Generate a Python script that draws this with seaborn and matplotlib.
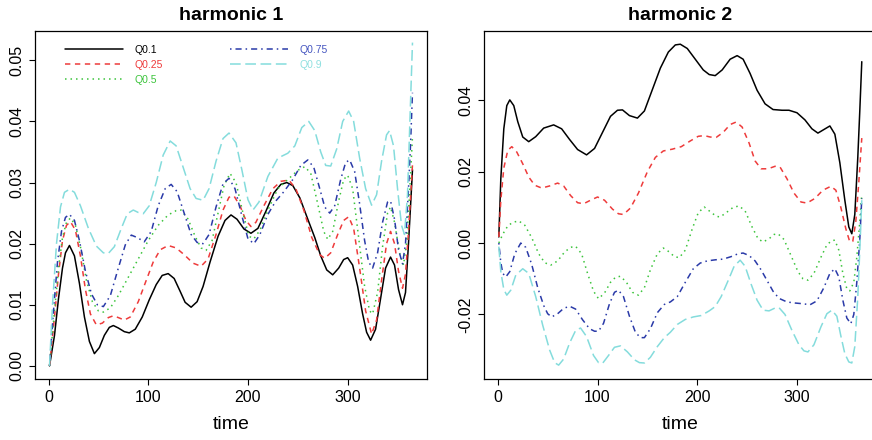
import matplotlib
matplotlib.use("Agg")
import matplotlib.pyplot as plt
import numpy as np
import pandas as pd
import seaborn as sns

# ---------------- data ----------------
quantiles = ["Q0.1", "Q0.25", "Q0.5", "Q0.75", "Q0.9"]
titles = ["harmonic 1", "harmonic 2"]
xticks = [0, 100, 200, 300]
h1_yticks = [0.00, 0.01, 0.02, 0.03, 0.04, 0.05]
h2_yticks = [-0.02, 0.00, 0.02, 0.04]

# harmonic 1
h1_q10_t = [1, 6, 10, 14, 17, 21, 26, 31, 36, 41, 46, 51, 56, 61, 65, 70, 76, 81, 87, 94, 101, 108, 114, 120, 126, 132, 137, 143, 149, 155, 162, 170, 177, 183, 189, 196, 203, 210, 218, 226, 233, 239, 245, 252, 260, 267, 273, 279, 285, 291, 296, 300, 305, 310, 315, 319, 323, 328, 333, 338, 343, 347, 351, 355, 358, 361, 363, 365]
h1_q10_v = [0.0000, 0.0050, 0.0110, 0.0160, 0.0185, 0.0197, 0.0180, 0.0135, 0.0080, 0.0040, 0.0020, 0.0030, 0.0050, 0.0063, 0.0066, 0.0062, 0.0056, 0.0054, 0.0060, 0.0080, 0.0108, 0.0133, 0.0148, 0.0151, 0.0143, 0.0122, 0.0104, 0.0096, 0.0105, 0.0130, 0.0170, 0.0212, 0.0238, 0.0247, 0.0240, 0.0224, 0.0217, 0.0225, 0.0253, 0.0283, 0.0297, 0.0300, 0.0295, 0.0275, 0.0240, 0.0210, 0.0180, 0.0157, 0.0149, 0.0160, 0.0174, 0.0177, 0.0165, 0.0130, 0.0085, 0.0055, 0.0042, 0.0060, 0.0110, 0.0160, 0.0178, 0.0165, 0.0125, 0.0100, 0.0120, 0.0200, 0.0260, 0.0321]

h1_q25_t = [1, 6, 10, 14, 18, 22, 27, 32, 37, 42, 48, 54, 60, 65, 70, 76, 82, 90, 98, 105, 112, 120, 128, 136, 145, 153, 160, 168, 175, 181, 186, 192, 198, 203, 208, 216, 225, 233, 241, 248, 256, 264, 272, 277, 283, 290, 296, 301, 306, 312, 318, 324, 329, 334, 339, 343, 347, 351, 355, 358, 361, 365]
h1_q25_v = [0.0000, 0.0080, 0.0150, 0.0205, 0.0230, 0.0236, 0.0222, 0.0180, 0.0125, 0.0085, 0.0067, 0.0070, 0.0079, 0.0082, 0.0079, 0.0075, 0.0080, 0.0105, 0.0140, 0.0170, 0.0190, 0.0197, 0.0193, 0.0182, 0.0168, 0.0163, 0.0175, 0.0215, 0.0255, 0.0276, 0.0278, 0.0262, 0.0238, 0.0228, 0.0235, 0.0262, 0.0290, 0.0302, 0.0304, 0.0290, 0.0255, 0.0210, 0.0182, 0.0176, 0.0185, 0.0215, 0.0238, 0.0244, 0.0225, 0.0160, 0.0090, 0.0052, 0.0075, 0.0140, 0.0200, 0.0220, 0.0200, 0.0155, 0.0127, 0.0150, 0.0220, 0.0329]

h1_q50_t = [1, 6, 10, 14, 18, 22, 27, 32, 38, 44, 50, 55, 62, 70, 80, 90, 100, 110, 120, 128, 133, 140, 147, 153, 158, 164, 170, 176, 182, 188, 195, 201, 206, 212, 220, 230, 240, 250, 257, 263, 270, 276, 280, 285, 291, 296, 300, 305, 311, 317, 322, 325, 330, 335, 340, 343, 347, 352, 356, 359, 362, 365]
h1_q50_v = [0.0000, 0.0090, 0.0160, 0.0210, 0.0235, 0.0242, 0.0230, 0.0195, 0.0140, 0.0105, 0.0090, 0.0088, 0.0095, 0.0115, 0.0145, 0.0175, 0.0205, 0.0230, 0.0247, 0.0254, 0.0255, 0.0240, 0.0212, 0.0193, 0.0189, 0.0205, 0.0250, 0.0295, 0.0315, 0.0300, 0.0250, 0.0212, 0.0208, 0.0222, 0.0255, 0.0290, 0.0305, 0.0320, 0.0326, 0.0315, 0.0265, 0.0220, 0.0207, 0.0220, 0.0270, 0.0305, 0.0312, 0.0290, 0.0210, 0.0130, 0.0090, 0.0085, 0.0120, 0.0195, 0.0250, 0.0260, 0.0235, 0.0185, 0.0165, 0.0200, 0.0280, 0.0375]

h1_q75_t = [1, 5, 9, 13, 17, 21, 26, 31, 37, 43, 49, 55, 62, 70, 77, 83, 89, 96, 103, 110, 117, 123, 129, 136, 143, 149, 155, 161, 168, 175, 181, 187, 194, 200, 206, 212, 220, 228, 236, 245, 253, 260, 266, 272, 277, 282, 287, 293, 298, 302, 307, 312, 317, 321, 325, 330, 335, 340, 343, 347, 351, 355, 358, 361, 363, 365]
h1_q75_v = [0.0000, 0.0090, 0.0170, 0.0220, 0.0243, 0.0248, 0.0238, 0.0205, 0.0155, 0.0118, 0.0100, 0.0097, 0.0115, 0.0160, 0.0198, 0.0214, 0.0210, 0.0203, 0.0220, 0.0262, 0.0290, 0.0297, 0.0285, 0.0250, 0.0215, 0.0202, 0.0200, 0.0215, 0.0260, 0.0298, 0.0307, 0.0290, 0.0245, 0.0208, 0.0200, 0.0215, 0.0248, 0.0270, 0.0285, 0.0305, 0.0328, 0.0337, 0.0325, 0.0290, 0.0260, 0.0250, 0.0262, 0.0305, 0.0333, 0.0337, 0.0318, 0.0265, 0.0205, 0.0170, 0.0160, 0.0185, 0.0235, 0.0268, 0.0270, 0.0240, 0.0190, 0.0167, 0.0200, 0.0290, 0.0360, 0.0447]

h1_q90_t = [1, 4, 8, 12, 16, 21, 26, 32, 40, 48, 55, 60, 66, 73, 79, 85, 90, 95, 101, 108, 115, 122, 128, 135, 142, 148, 155, 161, 168, 175, 181, 188, 194, 200, 205, 211, 220, 230, 240, 247, 254, 261, 267, 273, 278, 283, 289, 295, 301, 306, 312, 318, 324, 329, 334, 339, 342, 346, 350, 354, 357, 360, 362, 365]
h1_q90_v = [0.0000, 0.0100, 0.0200, 0.0260, 0.0284, 0.0289, 0.0284, 0.0262, 0.0225, 0.0196, 0.0185, 0.0184, 0.0195, 0.0225, 0.0249, 0.0255, 0.0251, 0.0249, 0.0262, 0.0300, 0.0345, 0.0368, 0.0360, 0.0325, 0.0290, 0.0274, 0.0271, 0.0290, 0.0335, 0.0372, 0.0381, 0.0365, 0.0320, 0.0272, 0.0255, 0.0268, 0.0310, 0.0340, 0.0348, 0.0360, 0.0390, 0.0400, 0.0385, 0.0350, 0.0328, 0.0327, 0.0355, 0.0400, 0.0417, 0.0400, 0.0340, 0.0290, 0.0263, 0.0280, 0.0335, 0.0378, 0.0385, 0.0360, 0.0290, 0.0230, 0.0215, 0.0280, 0.0380, 0.0529]

# harmonic 2
h2_q10_t = [1, 3, 6, 9, 12, 16, 20, 25, 31, 38, 46, 56, 64, 72, 80, 89, 97, 105, 113, 120, 125, 132, 140, 147, 155, 163, 171, 178, 183, 190, 198, 206, 212, 218, 225, 233, 240, 246, 253, 260, 268, 276, 285, 292, 300, 308, 315, 321, 327, 333, 338, 343, 348, 352, 355, 358, 361, 363, 365]
h2_q10_v = [0.0017, 0.0180, 0.0320, 0.0385, 0.0401, 0.0385, 0.0340, 0.0297, 0.0284, 0.0298, 0.0322, 0.0331, 0.0320, 0.0290, 0.0262, 0.0247, 0.0265, 0.0310, 0.0355, 0.0372, 0.0373, 0.0357, 0.0350, 0.0370, 0.0430, 0.0490, 0.0535, 0.0555, 0.0557, 0.0545, 0.0515, 0.0485, 0.0472, 0.0469, 0.0485, 0.0515, 0.0525, 0.0515, 0.0475, 0.0428, 0.0390, 0.0374, 0.0372, 0.0372, 0.0365, 0.0345, 0.0320, 0.0308, 0.0318, 0.0328, 0.0305, 0.0225, 0.0120, 0.0045, 0.0026, 0.0080, 0.0240, 0.0370, 0.0508]

h2_q25_t = [1, 3, 6, 10, 14, 19, 25, 31, 37, 44, 52, 60, 66, 73, 80, 86, 93, 100, 107, 115, 121, 126, 133, 141, 150, 158, 166, 175, 184, 193, 201, 207, 213, 219, 226, 233, 239, 245, 252, 258, 264, 271, 278, 283, 290, 297, 304, 310, 318, 326, 334, 339, 344, 349, 353, 356, 359, 362, 365]
h2_q25_v = [0.0017, 0.0120, 0.0210, 0.0260, 0.0270, 0.0255, 0.0222, 0.0185, 0.0162, 0.0154, 0.0160, 0.0168, 0.0160, 0.0133, 0.0113, 0.0110, 0.0120, 0.0129, 0.0120, 0.0095, 0.0082, 0.0080, 0.0098, 0.0140, 0.0200, 0.0240, 0.0258, 0.0263, 0.0270, 0.0286, 0.0299, 0.0301, 0.0297, 0.0296, 0.0310, 0.0332, 0.0339, 0.0325, 0.0280, 0.0230, 0.0208, 0.0208, 0.0215, 0.0213, 0.0180, 0.0140, 0.0115, 0.0112, 0.0125, 0.0148, 0.0159, 0.0148, 0.0100, 0.0040, 0.0003, 0.0005, 0.0060, 0.0170, 0.0294]

h2_q50_t = [1, 5, 10, 15, 21, 27, 34, 41, 47, 53, 60, 67, 73, 78, 84, 90, 96, 101, 107, 113, 118, 123, 129, 135, 141, 147, 153, 160, 166, 172, 177, 182, 188, 195, 201, 207, 213, 219, 223, 229, 236, 242, 248, 255, 261, 266, 272, 277, 281, 287, 294, 301, 306, 311, 317, 324, 330, 335, 338, 342, 346, 350, 353, 357, 360, 363, 365]
h2_q50_v = [0.0000, 0.0025, 0.0048, 0.0058, 0.0062, 0.0050, 0.0015, -0.0030, -0.0055, -0.0062, -0.0050, -0.0025, -0.0012, -0.0009, -0.0030, -0.0085, -0.0135, -0.0156, -0.0140, -0.0110, -0.0096, -0.0093, -0.0110, -0.0138, -0.0146, -0.0125, -0.0075, -0.0030, -0.0014, -0.0025, -0.0038, -0.0041, -0.0020, 0.0040, 0.0085, 0.0101, 0.0088, 0.0075, 0.0073, 0.0085, 0.0100, 0.0104, 0.0090, 0.0045, 0.0012, 0.0003, 0.0012, 0.0024, 0.0026, 0.0010, -0.0035, -0.0080, -0.0100, -0.0104, -0.0085, -0.0040, -0.0005, 0.0007, 0.0008, -0.0020, -0.0085, -0.0128, -0.0134, -0.0110, -0.0040, 0.0060, 0.0138]

h2_q75_t = [1, 3, 5, 8, 12, 17, 23, 28, 34, 40, 46, 50, 54, 60, 66, 72, 78, 85, 92, 97, 101, 106, 112, 117, 121, 126, 132, 138, 143, 147, 153, 160, 167, 173, 180, 188, 196, 203, 210, 218, 226, 234, 241, 246, 252, 258, 264, 270, 276, 282, 290, 298, 306, 313, 320, 327, 333, 338, 342, 346, 350, 354, 357, 360, 363, 365]
h2_q75_v = [0.0000, -0.0055, -0.0085, -0.0095, -0.0080, -0.0030, 0.0000, -0.0012, -0.0060, -0.0125, -0.0175, -0.0198, -0.0207, -0.0198, -0.0183, -0.0177, -0.0185, -0.0215, -0.0240, -0.0247, -0.0247, -0.0225, -0.0170, -0.0138, -0.0132, -0.0150, -0.0205, -0.0250, -0.0265, -0.0265, -0.0240, -0.0195, -0.0172, -0.0165, -0.0150, -0.0110, -0.0072, -0.0056, -0.0050, -0.0047, -0.0045, -0.0038, -0.0030, -0.0028, -0.0035, -0.0050, -0.0075, -0.0105, -0.0135, -0.0155, -0.0165, -0.0168, -0.0170, -0.0173, -0.0162, -0.0125, -0.0085, -0.0072, -0.0095, -0.0160, -0.0210, -0.0226, -0.0200, -0.0110, 0.0010, 0.0125]

h2_q90_t = [1, 3, 6, 9, 13, 18, 25, 31, 38, 45, 52, 57, 61, 66, 72, 78, 83, 89, 96, 101, 105, 111, 117, 123, 130, 137, 142, 147, 153, 160, 167, 173, 180, 188, 196, 204, 212, 218, 224, 231, 237, 243, 248, 254, 260, 266, 272, 278, 282, 288, 295, 302, 307, 311, 317, 324, 330, 335, 340, 344, 348, 352, 355, 358, 361, 363, 365]
h2_q90_v = [-0.0010, -0.0080, -0.0130, -0.0146, -0.0132, -0.0090, -0.0072, -0.0085, -0.0150, -0.0230, -0.0300, -0.0335, -0.0342, -0.0325, -0.0280, -0.0245, -0.0238, -0.0262, -0.0315, -0.0335, -0.0337, -0.0315, -0.0292, -0.0288, -0.0305, -0.0327, -0.0335, -0.0336, -0.0320, -0.0290, -0.0265, -0.0250, -0.0228, -0.0214, -0.0207, -0.0203, -0.0190, -0.0178, -0.0150, -0.0105, -0.0065, -0.0048, -0.0065, -0.0115, -0.0160, -0.0188, -0.0190, -0.0182, -0.0181, -0.0200, -0.0245, -0.0285, -0.0302, -0.0305, -0.0285, -0.0235, -0.0198, -0.0188, -0.0205, -0.0260, -0.0310, -0.0333, -0.0336, -0.0290, -0.0150, -0.0020, 0.0120]

# ---------------- styling ----------------
line_colors = ["#000000", "#EE3B3B", "#3CC43C", "#2A3AA8", "#84DCDC"]
text_colors = ["#000000", "#EE3B3B", "#3CC43C", "#4656C0", "#8FE0E0"]
dash_styles = ["", (3.5, 3.0), (1.0, 2.6), (1.0, 2.6, 4.0, 2.6), (7.0, 3.0)]

sns.set_style("white")
plt.rcParams["font.family"] = ["Liberation Sans", "DejaVu Sans"]
plt.rcParams["axes.unicode_minus"] = False
plt.rcParams["text.color"] = "black"
plt.rcParams["axes.labelcolor"] = "black"
plt.rcParams["xtick.color"] = "black"
plt.rcParams["ytick.color"] = "black"


def make_df(ts, vs):
    frames = []
    for q, t, v in zip(quantiles, ts, vs):
        frames.append(pd.DataFrame({"time": t, "value": v, "quantile": q}))
    return pd.concat(frames, ignore_index=True)


df1 = make_df([h1_q10_t, h1_q25_t, h1_q50_t, h1_q75_t, h1_q90_t],
              [h1_q10_v, h1_q25_v, h1_q50_v, h1_q75_v, h1_q90_v])
df2 = make_df([h2_q10_t, h2_q25_t, h2_q50_t, h2_q75_t, h2_q90_t],
              [h2_q10_v, h2_q25_v, h2_q50_v, h2_q75_v, h2_q90_v])

W, H = 872, 440
fig = plt.figure(figsize=(W / 100, H / 100), dpi=100)
ax1 = fig.add_axes([35 / W, 1 - 378.7 / H, 392 / W, 347.7 / H])
ax2 = fig.add_axes([484.3 / W, 1 - 378.7 / H, 392 / W, 347.7 / H])

palette = dict(zip(quantiles, line_colors))
dashes = dict(zip(quantiles, dash_styles))

for ax, df, title, yt, ylim in [
    (ax1, df1, titles[0], h1_yticks, (-0.0021, 0.0548)),
    (ax2, df2, titles[1], h2_yticks, (-0.0380, 0.0594)),
]:
    sns.lineplot(data=df, x="time", y="value", hue="quantile", style="quantile",
                 palette=palette, dashes=dashes, hue_order=quantiles,
                 style_order=quantiles, estimator=None, sort=False,
                 linewidth=1.1, legend=False, ax=ax)
    ax.set_xlim(-13.56, 379.56)
    ax.set_ylim(*ylim)
    ax.set_xticks(xticks)
    ax.set_xticklabels([str(x) for x in xticks])
    ax.set_yticks(yt)
    ax.set_yticklabels([f"{y:.2f}" for y in yt], rotation=90, va="center")
    ax.tick_params(axis="both", which="both", bottom=True, left=True,
                   direction="out", length=4.5, width=0.8, color="black",
                   labelcolor="black", labelsize=11.5, pad=3.5)
    for s in ax.spines.values():
        s.set_visible(True)
        s.set_color("black")
        s.set_linewidth(0.9)
    ax.set_xlabel("time", fontsize=14, labelpad=8, color="black")
    ax.set_ylabel("")
    ax.set_title(title, fontsize=14, fontweight="bold", pad=8, color="black")

handles = ax1.get_lines()[:5]
leg = ax1.legend(handles, quantiles, loc="upper left",
                 bbox_to_anchor=(0.076, 0.961), ncol=2, frameon=False,
                 fontsize=7.5, handlelength=5.6, handletextpad=1.1,
                 columnspacing=6.4, labelspacing=0.5, borderpad=0,
                 borderaxespad=0)
for txt, c in zip(leg.get_texts(), text_colors):
    txt.set_color(c)

fig.savefig("out.png", dpi=100)
